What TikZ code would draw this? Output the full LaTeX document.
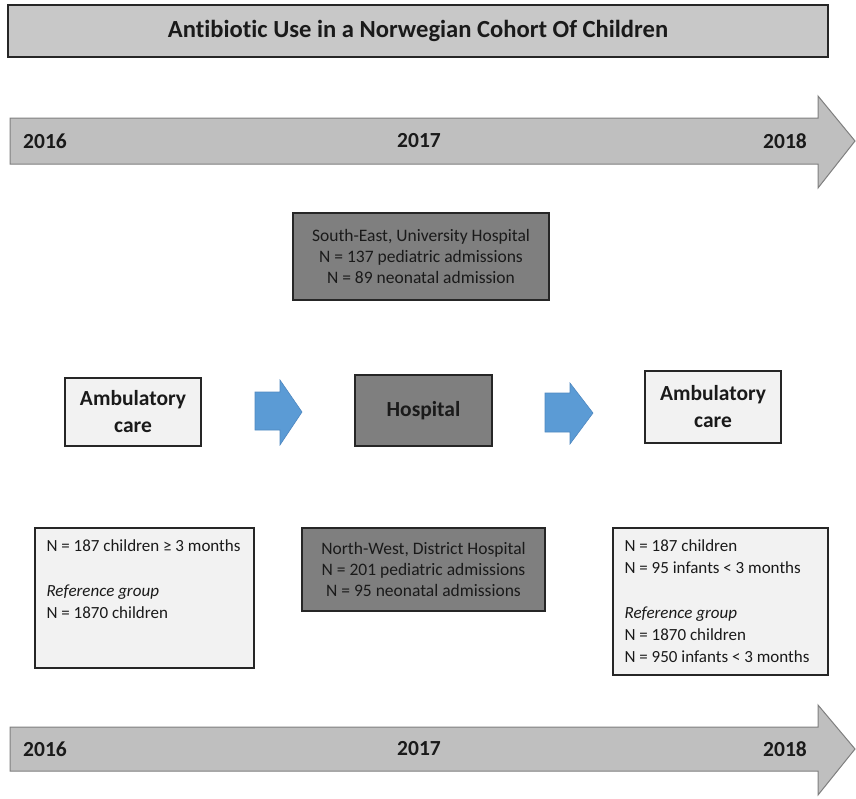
\documentclass[tikz,border=0pt]{standalone}
\usepackage{fontspec}
\setmainfont[Ligatures={NoCommon,NoContextual}]{Carlito}
\definecolor{titlefill}{HTML}{C8C8C8}
\definecolor{tlfill}{HTML}{BFBFBF}
\definecolor{tledge}{HTML}{7F7F7F}
\definecolor{darkfill}{HTML}{7F7F7F}
\definecolor{lightfill}{HTML}{F2F2F2}
\definecolor{bluefill}{HTML}{5B9BD5}
\definecolor{blueedge}{HTML}{4F88C0}
\definecolor{txt}{HTML}{1A1A1A}
\begin{document}
\begin{tikzpicture}[x=1pt,y=-1pt,
  boxbase/.style={draw=black!85, line width=1.3pt, inner sep=0pt, text=txt},
  titlebox/.style={boxbase, fill=titlefill, font=\fontsize{24.6}{28}\selectfont\bfseries},
  darkbox/.style={boxbase, fill=darkfill, align=center, font=\fontsize{17.5}{21}\selectfont},
  lightbox/.style={boxbase, fill=lightfill},
  stagebox/.style={lightbox, align=center, font=\fontsize{21.5}{27}\selectfont\bfseries},
  hospbox/.style={boxbase, fill=darkfill, font=\fontsize{21.5}{25}\selectfont\bfseries},
  infotext/.style={inner sep=0pt, anchor=north west, align=left, text=txt, font=\fontsize{17}{22}\selectfont},
  timeline/.style={fill=tlfill, draw=tledge, line width=1pt},
  yearlabel/.style={inner sep=0pt, text=txt, font=\fontsize{21.5}{25}\selectfont\bfseries},
  bluearrow/.style={fill=bluefill, draw=blueedge, line width=0.6pt}
]
\useasboundingbox (0,0) rectangle (856,798);

% title
\node[titlebox, minimum width=820pt, minimum height=52pt] (title) at (418,31)
  {Antibiotic Use in a Norwegian Cohort Of Children};

% top timeline
\draw[timeline] (10,118) -- (818,118) -- (818,96) -- (855,141) -- (818,188) -- (818,164) -- (10,164) -- cycle;
\node[yearlabel] (t2016) at (45,141) {2016};
\node[yearlabel] (t2017) at (419,141) {2017};
\node[yearlabel] (t2018) at (785,141) {2018};

% South-East
\node[darkbox, minimum width=256pt, minimum height=87pt] (se) at (421,256.5)
  {South-East, University Hospital\\N = 137 pediatric admissions\\N = 89 neonatal admission};

% middle row
\node[stagebox, minimum width=136pt, minimum height=68pt] (ambl) at (133,412) {Ambulatory\\care};
\node[hospbox, minimum width=137pt, minimum height=71pt] (hosp) at (423.5,410.5) {Hospital};
\node[stagebox, minimum width=136pt, minimum height=72pt] (ambr) at (713,407) {Ambulatory\\care};

\draw[bluearrow] (255,392) -- (280,392) -- (280,380) -- (302,412) -- (280,445) -- (280,430) -- (255,430) -- cycle;
\draw[bluearrow] (545,393) -- (570,393) -- (570,383) -- (593,413) -- (570,444) -- (570,432) -- (545,432) -- cycle;

% bottom row
\node[lightbox, minimum width=219pt, minimum height=140pt] (lb) at (144.5,598) {};
\node[infotext] (lbt) at ([xshift=12pt,yshift=-12.5pt]lb.north west)
  {N = 187 children ≥ 3 months\\[23pt]\textit{Reference group}\\N = 1870 children};

\node[darkbox, minimum width=243pt, minimum height=83pt] (nw) at (423.5,569.5)
  {North-West, District Hospital\\N = 201 pediatric admissions\\N = 95 neonatal admissions};

\node[lightbox, minimum width=215pt, minimum height=147pt] (rb) at (720.5,601.5) {};
\node[infotext] (rbt) at ([xshift=12pt,yshift=-12.5pt]rb.north west)
  {N = 187 children\\N = 95 infants < 3 months\\[23pt]\textit{Reference group}\\N = 1870 children\\N = 950 infants < 3 months};

% bottom timeline
\draw[timeline] (10,727) -- (818,727) -- (818,705) -- (855,749) -- (818,795) -- (818,771) -- (10,771) -- cycle;
\node[yearlabel] (b2016) at (45,749) {2016};
\node[yearlabel] (b2017) at (419,749) {2017};
\node[yearlabel] (b2018) at (785,749) {2018};
\end{tikzpicture}
\end{document}
